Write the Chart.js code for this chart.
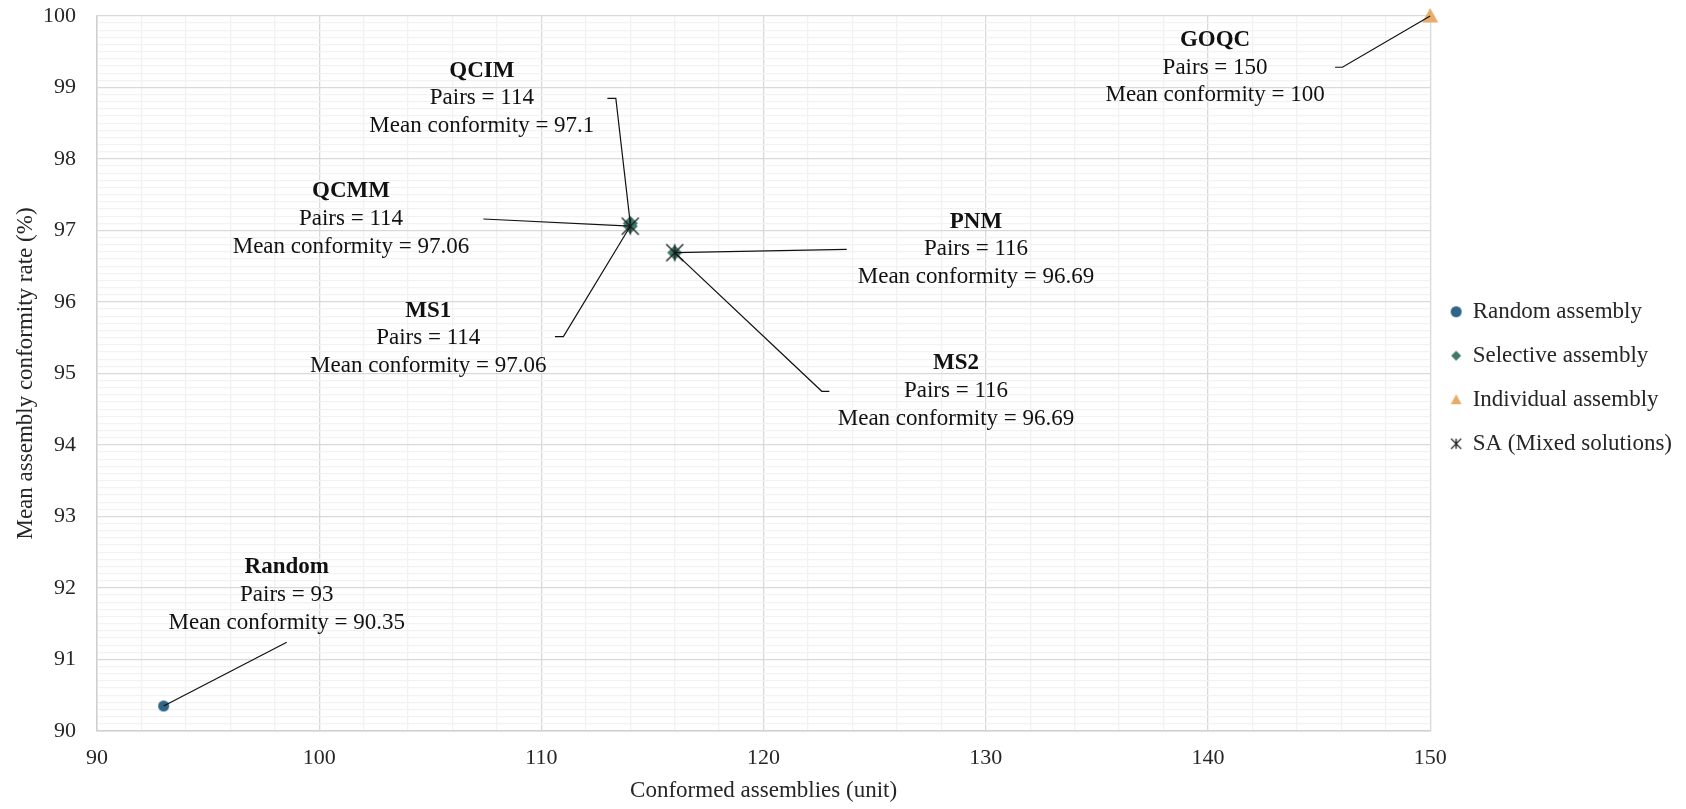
<!DOCTYPE html>
<html>
<head>
<meta charset="utf-8">
<script src="https://cdn.jsdelivr.net/npm/chart.js@4"></script>
<style>
  html, body { margin: 0; padding: 0; background: #fff; }
  #wrap { width: 1686px; height: 809px; }
</style>
</head>
<body>
<div id="wrap"><canvas id="c" width="1686" height="809"></canvas></div>
<script>
(() => {
  "use strict";
  // ---- data ----
  const seriesNames = ["Random assembly", "Selective assembly", "Individual assembly", "SA (Mixed solutions)"];
  const solutionNames = ["Random", "QCIM", "QCMM", "PNM", "MS1", "MS2", "GOQC"];
  const solutionPairs = [93, 114, 114, 116, 114, 116, 150];
  const solutionConformity = [90.35, 97.1, 97.06, 96.69, 97.06, 96.69, 100];
  const solutionSeries = [0, 1, 1, 1, 3, 3, 2];
  const xTicks = [90, 100, 110, 120, 130, 140, 150];
  const yTicks = [90, 91, 92, 93, 94, 95, 96, 97, 98, 99, 100];

  // label placement, in axis units: [centre x, middle line y]
  const labelAt = [[98.54, 91.902], [107.32, 98.849], [101.43, 97.161], [129.56, 96.737],
                   [104.91, 95.492], [128.66, 94.755], [140.32, 99.277]];
  // leader line start: [x1, x2 (elbow), y]
  const leaderFrom = [[98.54, 98.54, 91.24], [112.97, 113.35, 98.849], [107.39, 107.39, 97.161],
                      [123.74, 123.74, 96.737], [110.61, 110.99, 95.515], [122.96, 122.62, 94.751],
                      [145.72, 146.05, 99.283]];

  const FONT = "'Liberation Serif', 'Times New Roman', serif";
  const INK = "#262626";
  const COLORS = ["#2f6586", "#3e796c", "#e8ac6a", "#1a1a1a"];

  function mark(kind, size) {
    const c = document.createElement("canvas");
    c.width = c.height = size;
    const g = c.getContext("2d");
    const m = size / 2, r = size / 2 - 1;
    g.fillStyle = COLORS[kind];
    g.strokeStyle = COLORS[kind];
    g.beginPath();
    if (kind === 0) { g.arc(m, m, r, 0, Math.PI * 2); g.fill(); }
    else if (kind === 1) { g.moveTo(m, m - r); g.lineTo(m + r, m); g.lineTo(m, m + r); g.lineTo(m - r, m); g.closePath(); g.fill(); }
    else if (kind === 2) { g.moveTo(m, m - r); g.lineTo(m + r, m + r * 0.8); g.lineTo(m - r, m + r * 0.8); g.closePath(); g.fill(); }
    else {
      const a = r * 0.85;
      g.lineWidth = 1.3;
      g.moveTo(m - a, m - a); g.lineTo(m + a, m + a);
      g.moveTo(m + a, m - a); g.lineTo(m - a, m + a);
      g.moveTo(m, m - a); g.lineTo(m, m + a);
      g.stroke();
    }
    return c;
  }
  const legendMarks = [mark(0, 13), mark(1, 12), mark(2, 13), mark(3, 14)];
  const plotMarks = [mark(0, 13), mark(1, 17), mark(2, 18), mark(3, 22)];

  const datasets = seriesNames.map((name, s) => ({
    label: name,
    data: solutionPairs.map((x, i) => ({ x, y: solutionConformity[i] })).filter((_, i) => solutionSeries[i] === s),
    pointStyle: plotMarks[s],
    backgroundColor: COLORS[s],
    borderColor: COLORS[s],
    clip: false,
    order: s === 3 ? -1 : s,
  }));

  const isWhole = (v) => Math.abs(v - Math.round(v)) < 1e-6;

  const annotations = {
    id: "annotations",
    afterDatasetsDraw(chart) {
      const { ctx, scales: { x, y } } = chart;
      ctx.save();
      ctx.strokeStyle = "#111";
      ctx.lineWidth = 1.2;
      solutionNames.forEach((name, i) => {
        const [x1, x2, ly] = leaderFrom[i];
        const px = x.getPixelForValue(solutionPairs[i]);
        const py = y.getPixelForValue(solutionConformity[i]);
        ctx.beginPath();
        ctx.moveTo(x.getPixelForValue(x1), y.getPixelForValue(ly));
        ctx.lineTo(x.getPixelForValue(x2), y.getPixelForValue(ly));
        ctx.lineTo(px, py);
        ctx.stroke();
      });
      ctx.textAlign = "center";
      ctx.textBaseline = "middle";
      ctx.fillStyle = "#111";
      solutionNames.forEach((name, i) => {
        const cx = x.getPixelForValue(labelAt[i][0]);
        const cy = y.getPixelForValue(labelAt[i][1]);
        ctx.font = "bold 23px " + FONT;
        ctx.fillText(name, cx, cy - 27.5);
        ctx.font = "23px " + FONT;
        ctx.fillText("Pairs = " + solutionPairs[i], cx, cy);
        ctx.fillText("Mean conformity = " + solutionConformity[i], cx, cy + 27.5);
      });
      ctx.restore();
    },
  };

  Chart.defaults.font.family = FONT;
  Chart.defaults.color = INK;

  new Chart(document.getElementById("c"), {
    type: "scatter",
    data: { datasets },
    plugins: [annotations],
    options: {
      responsive: false,
      animation: false,
      layout: { padding: { top: 16, right: 4, bottom: 0, left: 0 } },
      elements: { point: { radius: 8, hoverRadius: 8 } },
      plugins: {
        tooltip: { enabled: false },
        legend: {
          position: "right",
          fullSize: false,
          // empty title only nudges the entries down a little
          title: { display: true, text: " ", font: { size: 7 }, padding: 0 },
          labels: {
            usePointStyle: true,
            pointStyleWidth: 10,
            padding: 21,
            color: INK,
            font: { size: 23, family: FONT },
            sort: (a, b) => a.datasetIndex - b.datasetIndex,
            generateLabels(chart) {
              const items = Chart.defaults.plugins.legend.labels.generateLabels(chart);
              items.forEach((it) => { it.pointStyle = legendMarks[it.datasetIndex]; });
              return items;
            },
          },
        },
      },
      scales: {
        x: {
          type: "linear", min: xTicks[0], max: xTicks[xTicks.length - 1],
          afterFit: (s) => { s.height = 78; },
          ticks: {
            stepSize: 2, autoSkip: false, maxRotation: 0, padding: 0,
            font: { size: 22 }, color: INK,
            callback: (v) => (xTicks.includes(v) ? String(v) : ""),
          },
          grid: {
            tickLength: 14,
            tickColor: "rgba(0,0,0,0)",
            color: (c) => (c.tick && c.tick.value % 10 === 0 ? "#d9d9d9" : "#f2f2f2"),
            lineWidth: 1.3,
          },
          border: { color: "#d0d0d0", width: 1.5 },
          title: { display: true, text: "Conformed assemblies (unit)", font: { size: 23 }, color: INK,
                   padding: { top: 4, bottom: 4 } },
        },
        y: {
          type: "linear", min: yTicks[0], max: yTicks[yTicks.length - 1],
          afterFit: (s) => { s.width = 97; },
          ticks: {
            stepSize: 0.1, autoSkip: false, padding: 0,
            font: { size: 22 }, color: INK,
            callback: (v) => (isWhole(v) && yTicks.includes(Math.round(v)) ? String(Math.round(v)) : ""),
          },
          grid: {
            tickLength: 21,
            tickColor: "rgba(0,0,0,0)",
            color: (c) => (c.tick && isWhole(c.tick.value) ? "#d9d9d9" : "#f2f2f2"),
            lineWidth: 1.3,
          },
          border: { color: "#d0d0d0", width: 1.5 },
          title: { display: true, text: "Mean assembly conformity rate (%)", font: { size: 23 }, color: INK,
                   padding: { top: 12, bottom: 4 } },
        },
      },
    },
  });
})();
</script>
</body>
</html>
